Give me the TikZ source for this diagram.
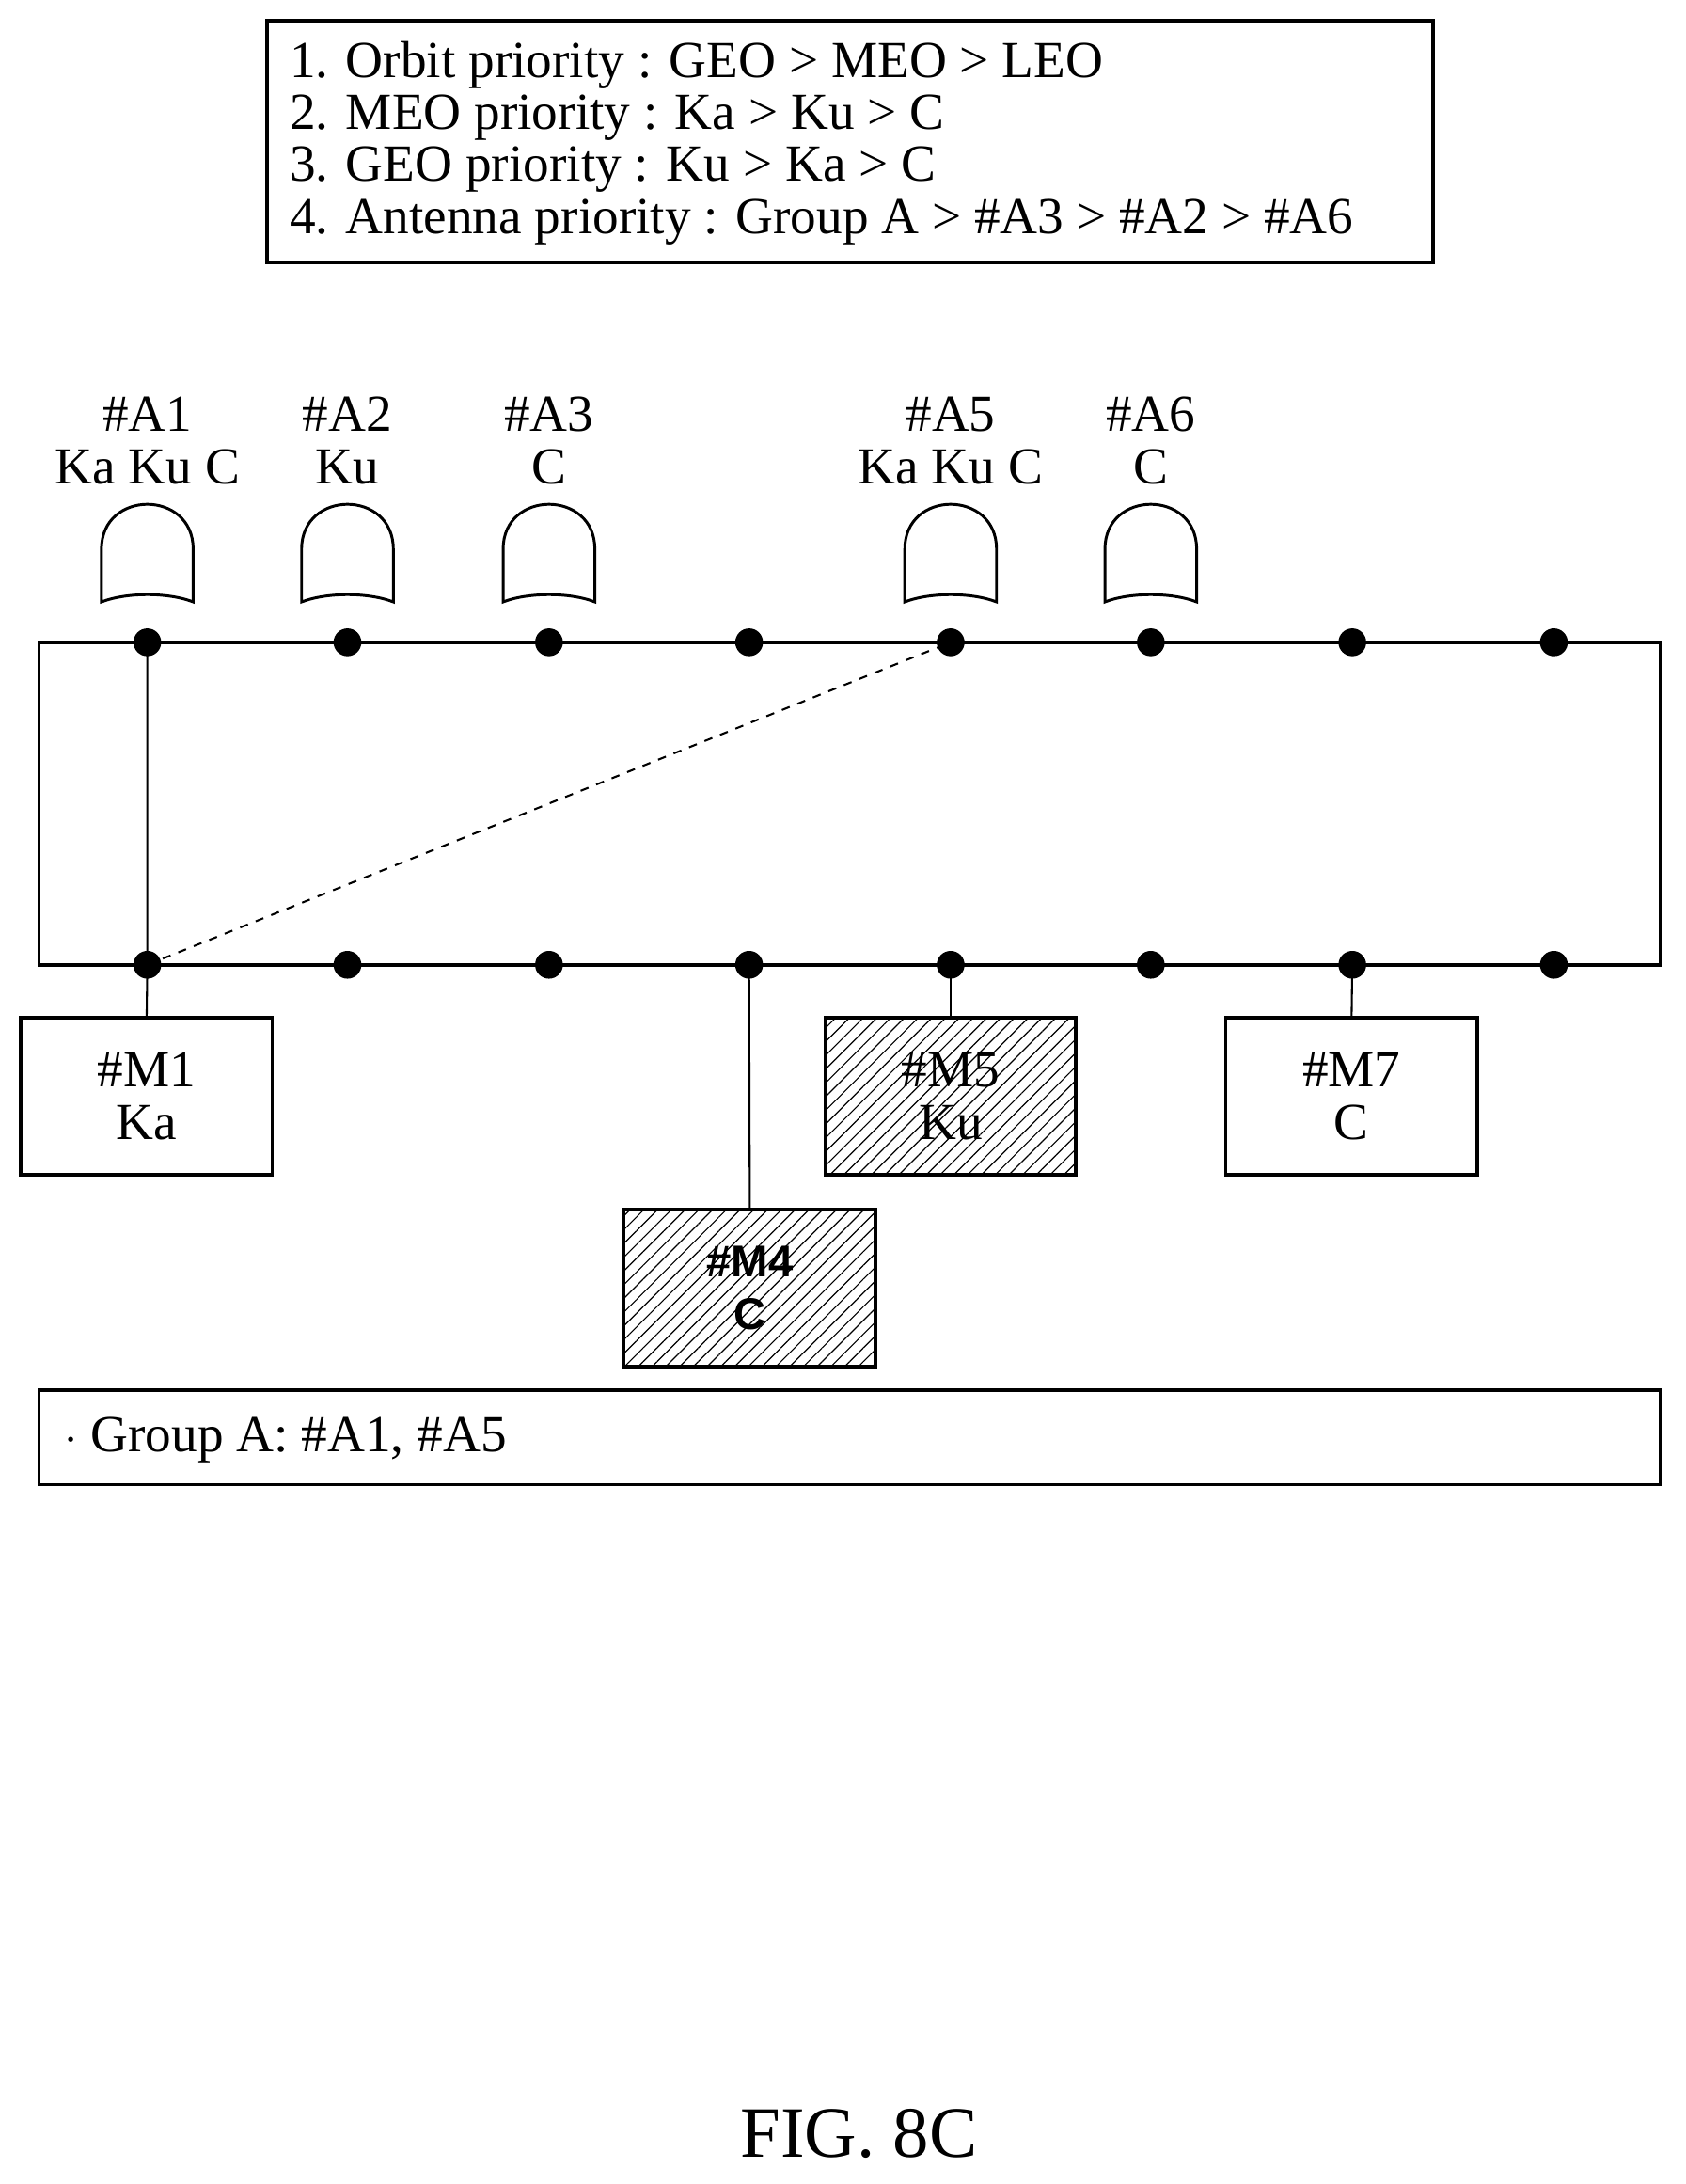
\documentclass[tikz,border=0pt]{standalone}
\usepackage{fontspec}
\setmainfont{Liberation Serif}
\newfontfamily\bsans{Liberation Sans}
\usetikzlibrary{patterns.meta}
\begin{document}
\begin{tikzpicture}[x=0.5pt,y=-0.5pt,
  txt/.style={font=\fontsize{18.7}{19}\selectfont,inner sep=0pt},
  box/.style={draw,line width=1.2pt},
  hatch/.style={box,pattern={Lines[angle=45,distance=3.5pt,line width=0.4pt]}},
  dot/.style={circle,fill,inner sep=0pt,minimum size=10pt},
  ln/.style={line width=0.7pt}]
\useasboundingbox (0,0) rectangle (1213,1571);
\draw[box] (192,15) rectangle (1031,189);
\node[txt,anchor=west] (t1) at (208,47) {1. Orbit priority : GEO > MEO > LEO};
\node[txt,anchor=west] (t2) at (208,85) {2. MEO priority : Ka > Ku > C};
\node[txt,anchor=west] (t3) at (208,122) {3. GEO priority : Ku > Ka > C};
\node[txt,anchor=west] (t4) at (208,160) {4. Antenna priority : Group A > \#A3 > \#A2 > \#A6};
\foreach \n/\x/\b in {A1/106/Ka Ku C,A2/250/Ku,A3/395/C,A5/684/Ka Ku C,A6/828/C}{
  \node[txt] (l\n) at (\x,298) {\#\n};
  \node[txt] (b\n) at (\x,336) {\b};
  \draw[line width=1pt] (\x-33,433) -- (\x-33,395) .. controls (\x-33,352) and (\x+33,352) .. (\x+33,395) -- (\x+33,433) .. controls (\x+15,426) and (\x-15,426) .. (\x-33,433) -- cycle;
}
\draw[box] (28,462) rectangle (1195,694);
\foreach \i/\x in {1/106,2/250,3/395,4/539,5/684,6/828,7/973,8/1118}{
  \node[dot] (u\i) at (\x,462) {};
  \node[dot] (d\i) at (\x,694) {};
}
\node[box,minimum width=90.5pt,minimum height=56.5pt,txt,align=center] (m1) at (105.5,788.5) {\#M1\\Ka};
\node[hatch,minimum width=90pt,minimum height=56.5pt,txt,align=center] (m5) at (684,788.5) {\#M5\\Ku};
\node[box,minimum width=90.5pt,minimum height=56.5pt,txt,align=center] (m7) at (972.5,788.5) {\#M7\\C};
\node[hatch,minimum width=90.5pt,minimum height=56.5pt,txt,align=center,font=\bsans\bfseries\fontsize{16}{19}\selectfont] (m4) at (539.5,926.5) {\#M4\\C};
\draw[ln] (u1.center) -- (d1.center) -- (m1.north);
\draw[ln,dashed] (d1.center) -- (u5.center);
\draw[ln] (d4.center) -- (m4.north);
\draw[ln] (d5.center) -- (m5.north);
\draw[ln] (d7.center) -- (m7.north);
\draw[box] (28,1000) rectangle (1195,1068);
\node[txt,anchor=west] (g) at (46,1036) {$\cdot$ Group A: \#A1, \#A5};
\node[font=\fontsize{26}{30}\selectfont] (fig) at (618,1535) {FIG. 8C};
\end{tikzpicture}
\end{document}
